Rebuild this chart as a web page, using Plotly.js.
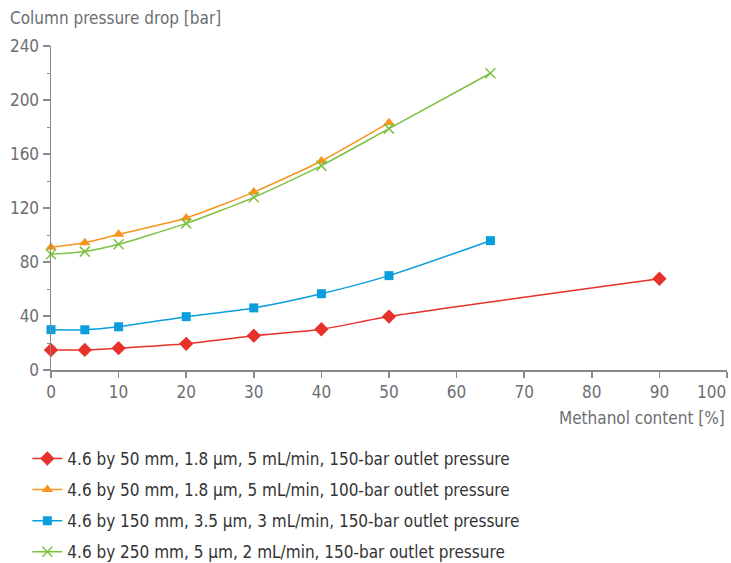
<!DOCTYPE html>
<html><head><meta charset="utf-8">
<script src="https://cdn.plot.ly/plotly-3.0.1.min.js"></script>
<style>body{margin:0;padding:0;background:#fff}#chart{width:731px;height:563px}</style>
</head><body><div id="chart"></div>
<script>
const seriesNames = [
  "4.6 by 50 mm, 1.8 µm, 5 mL/min, 150-bar outlet pressure",
  "4.6 by 50 mm, 1.8 µm, 5 mL/min, 100-bar outlet pressure",
  "4.6 by 150 mm, 3.5 µm, 3 mL/min, 150-bar outlet pressure",
  "4.6 by 250 mm, 5 µm, 2 mL/min, 150-bar outlet pressure"
];
const xRed = [0, 5, 10, 20, 30, 40, 50, 90];
const yRed = [14.8, 14.9, 16.2, 19.4, 25.4, 30.2, 39.6, 67.6];
const xOrange = [0, 5, 10, 20, 30, 40, 50];
const yOrange = [91, 94.3, 100.5, 112.6, 131.8, 154.8, 183.2];
const xBlue = [0, 5, 10, 20, 30, 40, 50, 65];
const yBlue = [29.9, 29.8, 32, 39.5, 46, 56.5, 69.9, 95.8];
const xGreen = [0, 5, 10, 20, 30, 40, 50, 65];
const yGreen = [85.7, 87.7, 93.1, 108.6, 127.9, 151.4, 178.8, 219.8];
const xTicks = [0, 10, 20, 30, 40, 50, 60, 70, 80, 90, 100];
const yTicks = [0, 40, 80, 120, 160, 200, 240];

const FONT = '"Liberation Sans Narrow", "DejaVu Sans Condensed", "Roboto", sans-serif';
const GRAY = '#6d6e71';

function tr(x, y, name, group, color, symbol, size, mline) {
  const marker = {color: color, symbol: symbol, size: size};
  if (mline) marker.line = {color: color, width: 1.5};
  return {
    x: x, y: y, name: name, legendgroup: group, type: 'scatter', mode: 'lines+markers',
    cliponaxis: false,
    line: {color: color, width: 1.5, shape: 'spline', smoothing: 0.6},
    marker: marker
  };
}

const data = [
  tr(xRed, yRed, seriesNames[0], 'g1', '#e8312a', 'diamond', 11),
  tr(xOrange, yOrange, seriesNames[1], 'g2', '#f7941d', 'triangle-up', 10),
  tr(xBlue, yBlue, seriesNames[2], 'g3', '#0a9fdc', 'square', 9),
  tr(xGreen, yGreen, seriesNames[3], 'g4', '#7cc142', 'x-thin-open', 10, true)
];

// the last x label sits flush against the right edge in the original, so it is placed right-aligned on its tick
const lastX = xTicks[xTicks.length - 1];
const xTickText = xTicks.map(v => v === lastX ? '' : String(v));

const layout = {
  width: 731, height: 563,
  margin: {l: 51, r: 4, t: 46, b: 193, autoexpand: false},
  paper_bgcolor: '#fff', plot_bgcolor: '#fff',
  font: {family: FONT, color: GRAY, size: 17},
  title: {text: 'Column pressure drop [bar]', x: 10/731, xanchor: 'left', xref: 'container',
          y: 1 - 18/563, yanchor: 'middle', yref: 'container',
          font: {family: FONT, size: 17, color: GRAY}},
  xaxis: {
    range: [0, 100], tickvals: xTicks, ticktext: xTickText,
    showgrid: false, zeroline: false, showline: true, linecolor: '#8a8a8a', linewidth: 1.5,
    ticks: 'outside', ticklen: 6, tickcolor: '#8a8a8a', tickwidth: 1.5,
    tickfont: {family: FONT, size: 17, color: GRAY}, fixedrange: true
  },
  yaxis: {
    range: [0, 240], tickvals: yTicks, ticktext: yTicks.map(String),
    showgrid: false, zeroline: false, showline: true, linecolor: '#8a8a8a', linewidth: 1.5,
    ticks: 'outside', ticklen: 7, tickcolor: '#8a8a8a', tickwidth: 1.5,
    minor: {dtick: 20, ticks: 'outside', ticklen: 3, tickcolor: '#8a8a8a', tickwidth: 1},
    tickfont: {family: FONT, size: 17, color: GRAY}, fixedrange: true
  },
  annotations: [{
    text: 'Methanol content [%]', xref: 'paper', yref: 'paper', x: 1, y: 0,
    xanchor: 'right', yanchor: 'middle', yshift: -48, showarrow: false,
    font: {family: FONT, size: 17, color: GRAY}
  }, {
    text: String(lastX), xref: 'x', yref: 'paper', x: lastX, y: 0,
    xanchor: 'right', yanchor: 'middle', yshift: -22, xshift: 1, showarrow: false,
    font: {family: FONT, size: 17, color: GRAY}
  }],
  showlegend: true,
  legend: {
    x: -0.035, xanchor: 'left', y: -0.219, yanchor: 'top', orientation: 'v',
    font: {family: FONT, size: 17, color: '#333333'}, itemwidth: 30,
    tracegroupgap: 6, bgcolor: 'rgba(0,0,0,0)', traceorder: 'grouped'
  }
};

Plotly.newPlot('chart', data, layout, {displayModeBar: false, staticPlot: true});
</script>
</body></html>
